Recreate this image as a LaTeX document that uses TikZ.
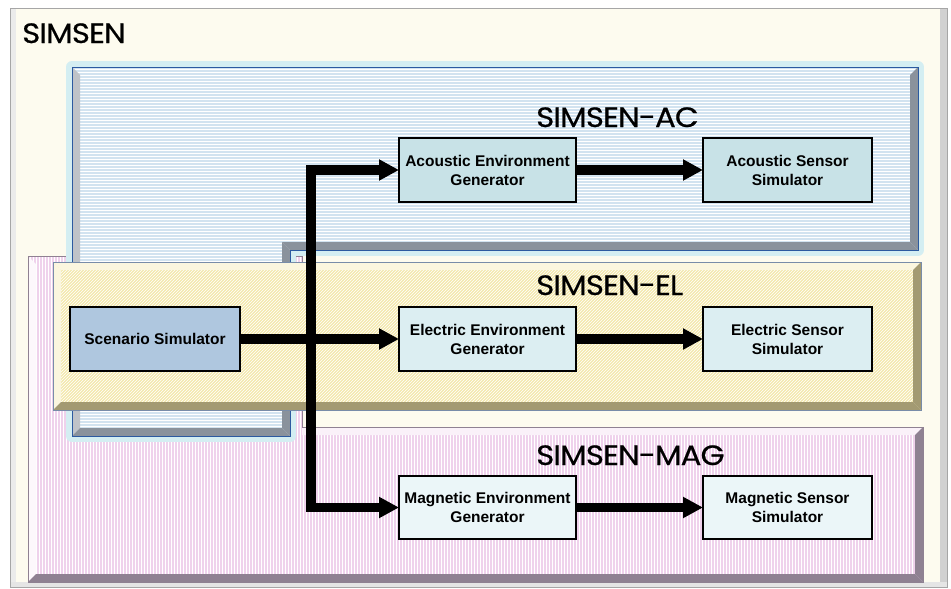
\documentclass[tikz,border=0pt]{standalone}
\usepackage{fontspec}
\setmainfont{Liberation Sans}
\newfontfamily\titlefont[FakeStretch=1.1, LetterSpace=-3, FakeBold=0.6]{Poppins}
\usetikzlibrary{arrows.meta,patterns}
\definecolor{cream}{HTML}{FDFBEF}
\definecolor{acfill}{HTML}{D2E3F0}
\definecolor{acborder}{HTML}{2C5AA0}
\definecolor{acbevel}{HTML}{8A929C}
\definecolor{acglow}{HTML}{D4EEF2}
\definecolor{elfill}{HTML}{F4E9AE}
\definecolor{elbevel}{HTML}{A39A72}
\definecolor{magfill}{HTML}{EFD2EC}
\definecolor{magbevel}{HTML}{8F8192}
\definecolor{boxac}{HTML}{C8E2E7}
\definecolor{boxsc}{HTML}{AFC7DF}
\definecolor{boxel}{HTML}{DCEEF2}
\definecolor{boxmag}{HTML}{EBF6F8}
\tikzset{
  blk/.style={draw=black, line width=1.8pt, inner sep=0pt, outer sep=0pt,
    minimum height=64pt, align=center,
    font=\bfseries\fontsize{15.5}{19}\selectfont},
  gen/.style={blk, minimum width=177pt},
  sen/.style={blk, minimum width=169pt},
  title/.style={anchor=base west, inner sep=0pt, font=\titlefont\fontsize{28}{30}\selectfont},
  bus/.style={line width=9.5pt, black, line join=miter},
  tip/.tip={Triangle[length=20pt,width=20pt]}
}
\begin{document}
\begin{tikzpicture}[x=1pt,y=-1pt]
\useasboundingbox (0,0) rectangle (951,589);
\fill[white] (0,0) rectangle (951,589);
% outer frame
\fill[cream] (10,8) rectangle (947,587);
\fill[black!8] (10,8) rectangle (16,587);
\fill[black!18] (940,8) rectangle (947,587);
\fill[black!10] (10,582) rectangle (947,587);
\draw[black!35, line width=0.8pt] (10,8) rectangle (947,587);
\node[title] (t0) at (22,43) {SIMSEN};
% MAG panel
\path[fill=magfill, postaction={pattern=vertical lines, pattern color=white}]
  (28,256) -- (302,256) -- (302,427) -- (923,427) -- (923,582) -- (28,582) -- cycle;
\fill[white!85!magfill] (28,256) -- (36,264) -- (36,574) -- (28,582) -- cycle;
\fill[white!70!magfill] (302,427) -- (923,427) -- (915,435) -- (302,435) -- cycle;
\fill[magbevel] (923,427) -- (923,582) -- (915,574) -- (915,435) -- cycle;
\fill[magbevel] (28,582) -- (923,582) -- (915,574) -- (36,574) -- cycle;
\draw[magbevel, line width=0.6pt] (28,256) -- (302,256) -- (302,427) -- (923,427) -- (923,582) -- (28,582) -- cycle;
% AC panel
\draw[acglow, line width=12pt, line join=round]
  (72,67) -- (918,67) -- (918,250) -- (290,250) -- (290,436) -- (72,436) -- cycle;
\path[fill=acfill, postaction={pattern=horizontal lines, pattern color=white}]
  (72,67) -- (918,67) -- (918,250) -- (290,250) -- (290,436) -- (72,436) -- cycle;
\fill[acbevel!55!white] (72,67) -- (80,75) -- (80,428) -- (72,436) -- cycle;
\fill[acbevel] (918,67) -- (918,250) -- (910,242) -- (910,75) -- cycle;
\fill[acbevel] (290,250) -- (918,250) -- (910,242) -- (282,242) -- cycle;
\fill[acbevel] (282,242) -- (290,250) -- (290,436) -- (282,428) -- cycle;
\fill[acbevel] (72,436) -- (290,436) -- (282,428) -- (80,428) -- cycle;
\draw[acborder, line width=1pt]
  (72,67) -- (918,67) -- (918,250) -- (290,250) -- (290,436) -- (72,436) -- cycle;
\node[title] (tac) at (536,127) {SIMSEN-AC};
% EL panel
\path[fill=elfill, postaction={pattern=north east lines, pattern color=white}]
  (53,262) rectangle (921,410);
\fill[white!60!elfill] (53,262) -- (61,270) -- (61,402) -- (53,410) -- cycle;
\fill[white!60!elfill] (53,262) -- (921,262) -- (913,270) -- (61,270) -- cycle;
\fill[elbevel] (921,262) -- (921,410) -- (913,402) -- (913,270) -- cycle;
\fill[elbevel] (53,410) -- (921,410) -- (913,402) -- (61,402) -- cycle;
\draw[black!30!acborder!60!white, line width=0.6pt] (53,262) rectangle (921,410);
\node[title] (tel) at (536,295) {SIMSEN-EL};
\node[title] (tmag) at (536,465) {SIMSEN-MAG};
% blocks
\node[gen, fill=boxac] (acgen) at (487.5,170) {Acoustic Environment\\Generator};
\node[sen, fill=boxac] (acsen) at (787.5,170) {Acoustic Sensor\\Simulator};
\node[blk, minimum width=170pt, fill=boxsc] (scen) at (155,339) {Scenario Simulator};
\node[gen, fill=boxel] (elgen) at (487.5,339) {Electric Environment\\Generator};
\node[sen, fill=boxel] (elsen) at (787.5,339) {Electric Sensor\\Simulator};
\node[gen, fill=boxmag, minimum height=63pt] (maggen) at (487.5,507.5) {Magnetic Environment\\Generator};
\node[sen, fill=boxmag, minimum height=63pt] (magsen) at (787.5,507.5) {Magnetic Sensor\\Simulator};
% connectors
\coordinate (bus) at (311,400);
\draw[bus, {tip}-{tip}] (acgen.west) -| (bus) |- (maggen.west);
\draw[bus, -{tip}] (scen.east) -- (elgen.west);
\draw[bus, -{tip}] (acgen.east) -- (acsen.west);
\draw[bus, -{tip}] (elgen.east) -- (elsen.west);
\draw[bus, -{tip}] (maggen.east) -- (magsen.west);
\end{tikzpicture}
\end{document}
